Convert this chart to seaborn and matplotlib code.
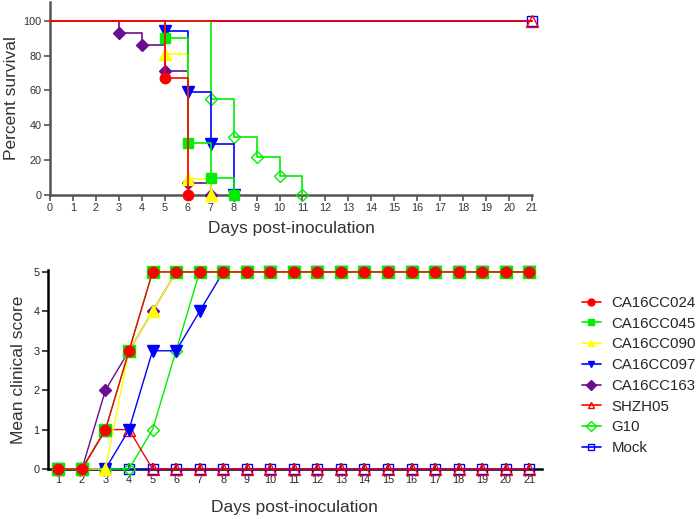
import matplotlib.pyplot as plt
import seaborn as sns
from matplotlib.lines import Line2D

sns.set_style('ticks')
plt.rcParams['font.family'] = ['Liberation Sans', 'DejaVu Sans']

# strain names, colours, markers
strains = ['CA16CC024', 'CA16CC045', 'CA16CC090', 'CA16CC097',
           'CA16CC163', 'SHZH05', 'G10', 'Mock']
colors = ['#ff0000', '#00ee00', '#ffff00', '#0000ff',
          '#6a0d91', '#ff0000', '#00ee00', '#0000ff']
markers = ['o', 's', '^', 'v', 'D', '^', 'D', 's']
filled = [True, True, True, True, True, False, False, False]

# Kaplan-Meier survival (step times and percent survival)
surv_days = {
    'CA16CC024': [0, 5, 6],
    'CA16CC045': [0, 5, 6, 7, 8],
    'CA16CC090': [0, 5, 6, 7],
    'CA16CC097': [0, 5, 6, 7, 8],
    'CA16CC163': [0, 3, 4, 5, 6, 7],
    'SHZH05': [0, 21],
    'G10': [0, 7, 8, 9, 10, 11],
    'Mock': [0, 21],
}
surv_pct = {
    'CA16CC024': [100, 67, 0],
    'CA16CC045': [100, 90, 30, 10, 0],
    'CA16CC090': [100, 81, 9, 0],
    'CA16CC097': [100, 94, 59, 29, 0],
    'CA16CC163': [100, 93, 86, 71, 7, 0],
    'SHZH05': [100, 100],
    'G10': [100, 55, 33, 22, 11, 0],
    'Mock': [100, 100],
}

# mean clinical score per day
score_days = [1, 2, 3, 4, 5, 6, 7, 8, 9, 10, 11, 12, 13, 14, 15, 16, 17, 18, 19, 20, 21]
scores = {
    'CA16CC024': [0, 0, 1, 3, 5, 5, 5, 5, 5, 5, 5, 5, 5, 5, 5, 5, 5, 5, 5, 5, 5],
    'CA16CC045': [0, 0, 1, 3, 5, 5, 5, 5, 5, 5, 5, 5, 5, 5, 5, 5, 5, 5, 5, 5, 5],
    'CA16CC090': [0, 0, 0, 3, 4, 5, 5, 5, 5, 5, 5, 5, 5, 5, 5, 5, 5, 5, 5, 5, 5],
    'CA16CC097': [0, 0, 0, 1, 3, 3, 4, 5, 5, 5, 5, 5, 5, 5, 5, 5, 5, 5, 5, 5, 5],
    'CA16CC163': [0, 0, 2, 3, 4, 5, 5, 5, 5, 5, 5, 5, 5, 5, 5, 5, 5, 5, 5, 5, 5],
    'SHZH05': [0, 0, 1, 1, 0, 0, 0, 0, 0, 0, 0, 0, 0, 0, 0, 0, 0, 0, 0, 0, 0],
    'G10': [0, 0, 0, 0, 1, 3, 5, 5, 5, 5, 5, 5, 5, 5, 5, 5, 5, 5, 5, 5, 5],
    'Mock': [0, 0, 0, 0, 0, 0, 0, 0, 0, 0, 0, 0, 0, 0, 0, 0, 0, 0, 0, 0, 0],
}

msize = {'o': 7.5, 's': 7.5, '^': 8, 'v': 8, 'D': 6}

fig = plt.figure(figsize=(7, 5.19), dpi=100)
ax1 = fig.add_axes([0.0714, 0.6243, 0.6886, 0.3719])
ax2 = fig.add_axes([0.0686, 0.0963, 0.7053, 0.3835])

# draw in reverse legend order so CA16CC024 ends up on top
order = list(range(len(strains)))[::-1]

for i in order:
    s = strains[i]
    z = 5 if s == 'SHZH05' else 3
    sns.lineplot(x=surv_days[s], y=surv_pct[s], drawstyle='steps-post',
                 color=colors[i], lw=1.2, ax=ax1, zorder=z)
    fc = colors[i] if filled[i] else 'none'
    ms = 6.5 if s == 'G10' else msize[markers[i]]
    sns.lineplot(x=surv_days[s][1:], y=surv_pct[s][1:], linestyle='',
                 marker=markers[i], markersize=ms,
                 markerfacecolor=fc, markeredgecolor=colors[i],
                 markeredgewidth=1.0, color=colors[i], ax=ax1, zorder=z)

for i in order:
    s = strains[i]
    fc = colors[i] if filled[i] else 'none'
    ms = msize[markers[i]]
    if s == 'CA16CC045':
        ms = 8.5
    if s == 'G10':
        ms = 6.5
    sns.lineplot(x=score_days, y=scores[s], color=colors[i], lw=1.0,
                 marker=markers[i], markersize=ms, markerfacecolor=fc,
                 markeredgecolor=colors[i], markeredgewidth=1.0, ax=ax2, zorder=3)

for ax in (ax1, ax2):
    for ln in ax.lines:
        ln.set_clip_on(False)

# top panel styling
ax1.set_xlim(0, 21)
ax1.set_ylim(0, 110.7)
ax1.set_xticks(range(0, 22))
ax1.set_yticks([0, 20, 40, 60, 80, 100])
sns.despine(ax=ax1)
for sp in ('left', 'bottom'):
    ax1.spines[sp].set_color('#555555')
    ax1.spines[sp].set_linewidth(1.8)
ax1.tick_params(axis='both', colors='#555555', labelcolor='#333333',
                labelsize=7.8, length=4, width=1.2, pad=2)
ax1.set_xlabel('Days post-inoculation', fontsize=12.5, color='#333333')
ax1.set_ylabel('Percent survival', fontsize=12.5, color='#333333')
ax1.xaxis.set_label_coords(0.5, -0.135)
ax1.yaxis.set_label_coords(-0.065, 0.5)

# bottom panel styling
ax2.set_xlim(0.56, 21.53)
ax2.set_ylim(0, 5.05)
ax2.set_xticks(score_days)
ax2.set_yticks([0, 1, 2, 3, 4, 5])
sns.despine(ax=ax2)
for sp in ('left', 'bottom'):
    ax2.spines[sp].set_color('black')
    ax2.spines[sp].set_linewidth(1.8)
ax2.tick_params(axis='x', direction='in', length=4, width=1.2,
                labelsize=7.8, pad=4)
ax2.tick_params(axis='y', direction='out', length=4, width=1.2,
                labelsize=7.8, pad=2)
ax2.set_xlabel('Days post-inoculation', fontsize=12.5, color='#333333')
ax2.set_ylabel('Mean clinical score', fontsize=12.5, color='#333333')
ax2.xaxis.set_label_coords(0.5, -0.155)
ax2.yaxis.set_label_coords(-0.045, 0.5)

# legend
handles = []
for i, s in enumerate(strains):
    fc = colors[i] if filled[i] else 'none'
    handles.append(Line2D([], [], color=colors[i], lw=1.2, marker=markers[i],
                          markersize=5, markerfacecolor=fc,
                          markeredgecolor=colors[i]))
fig.legend(handles, strains, loc='upper left', bbox_to_anchor=(0.831, 0.43),
           frameon=False, fontsize=10.8, borderpad=0, borderaxespad=0,
           handlelength=1.3, handletextpad=0.7, labelspacing=0.45)

fig.savefig('out.png', dpi=100)
